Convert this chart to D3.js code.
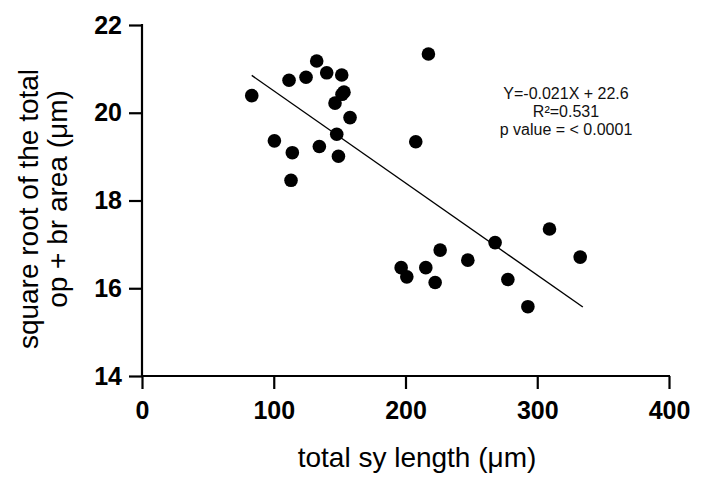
<!DOCTYPE html>
<html>
<head>
<meta charset="utf-8">
<script src="https://cdn.jsdelivr.net/npm/d3@7"></script>
<style>
  html, body { margin: 0; padding: 0; background: #fff; }
  svg { display: block; font-family: "Liberation Sans", Arial, sans-serif; }
</style>
</head>
<body>
<svg id="chart" width="712" height="488"></svg>
<script>
// total sy length (µm) vs sqrt of op + br area (µm)
const syLength = [83.3, 111.6, 124.5, 132.6, 140.2, 151.6, 151.8, 153.3, 146.5, 157.9, 147.8, 100.5, 114.1, 134.6, 149.1, 113.1,
    217.4, 207.8, 196.7, 201.0, 215.4, 226.3, 222.5, 247.3, 268.0, 277.7, 292.9, 309.3, 332.6];
const sqrtArea = [20.39, 20.74, 20.81, 21.18, 20.91, 20.86, 20.42, 20.47, 20.22, 19.89, 19.51, 19.36, 19.09, 19.23, 19.01, 18.46,
    21.34, 19.34, 16.47, 16.26, 16.47, 16.87, 16.13, 16.64, 17.04, 16.20, 15.58, 17.35, 16.71];
const xTicks = [0, 100, 200, 300, 400];
const yTicks = [14, 16, 18, 20, 22];
const slope = -0.021, intercept = 22.6;
const statsText = ["Y=-0.021X + 22.6", "R²=0.531", "p value = < 0.0001"];

const svg = d3.select("#chart");
const x = d3.scaleLinear().domain([0, 400]).range([142, 669]);
const y = d3.scaleLinear().domain([14, 22]).range([376, 25]);

// axes
const xAxis = svg.append("g")
    .attr("transform", `translate(0, ${y(14)})`)
    .call(d3.axisBottom(x).tickValues(xTicks).tickSize(13).tickPadding(12).tickSizeOuter(0));
const yAxis = svg.append("g")
    .attr("transform", `translate(${x(0)}, 0)`)
    .call(d3.axisLeft(y).tickValues(yTicks).tickSize(13).tickPadding(7).tickSizeOuter(0));

[xAxis, yAxis].forEach(a => {
    a.select(".domain").attr("stroke", "#000").attr("stroke-width", 2.2);
    a.selectAll(".tick line").attr("stroke", "#000").attr("stroke-width", 2.2);
    a.selectAll(".tick text")
        .attr("fill", "#000")
        .style("font-family", "'Liberation Sans', Arial, sans-serif")
        .style("font-weight", "bold")
        .style("font-size", "25px");
});
// extend domains a little past the corner like the original
xAxis.select(".domain").attr("d", `M${x(0) - 1},0H${x(400) + 1}`);
yAxis.select(".domain").attr("d", `M0,${y(22) - 1}V${y(14) + 1}`);

// regression line
const xMin = d3.min(syLength), xMax = d3.max(syLength) + 2;
svg.append("line")
    .attr("x1", x(xMin)).attr("y1", y(slope * xMin + intercept))
    .attr("x2", x(xMax)).attr("y2", y(slope * xMax + intercept))
    .attr("stroke", "#000")
    .attr("stroke-width", 1.4);

// points
svg.append("g")
    .selectAll("circle")
    .data(syLength.map((d, i) => [d, sqrtArea[i]]))
    .join("circle")
    .attr("cx", d => x(d[0]))
    .attr("cy", d => y(d[1]))
    .attr("r", 6.8)
    .attr("fill", "#000");

// stats annotation
svg.append("g")
    .selectAll("text")
    .data(statsText)
    .join("text")
    .attr("x", 566)
    .attr("y", (d, i) => 99 + i * 18)
    .attr("text-anchor", "middle")
    .style("font-size", "16px")
    .attr("fill", "#111")
    .text(d => d);

// axis titles
svg.append("text")
    .attr("x", 417)
    .attr("y", 467)
    .attr("text-anchor", "middle")
    .style("font-size", "28px")
    .text("total sy length (μm)");

const yTitle = svg.append("text")
    .attr("transform", "rotate(-90)")
    .attr("text-anchor", "middle")
    .style("font-size", "28px");
yTitle.append("tspan").attr("x", -209).attr("y", 38).text("square root of the total");
yTitle.append("tspan").attr("x", -199).attr("y", 67).text("op + br area (μm)");
</script>
</body>
</html>
